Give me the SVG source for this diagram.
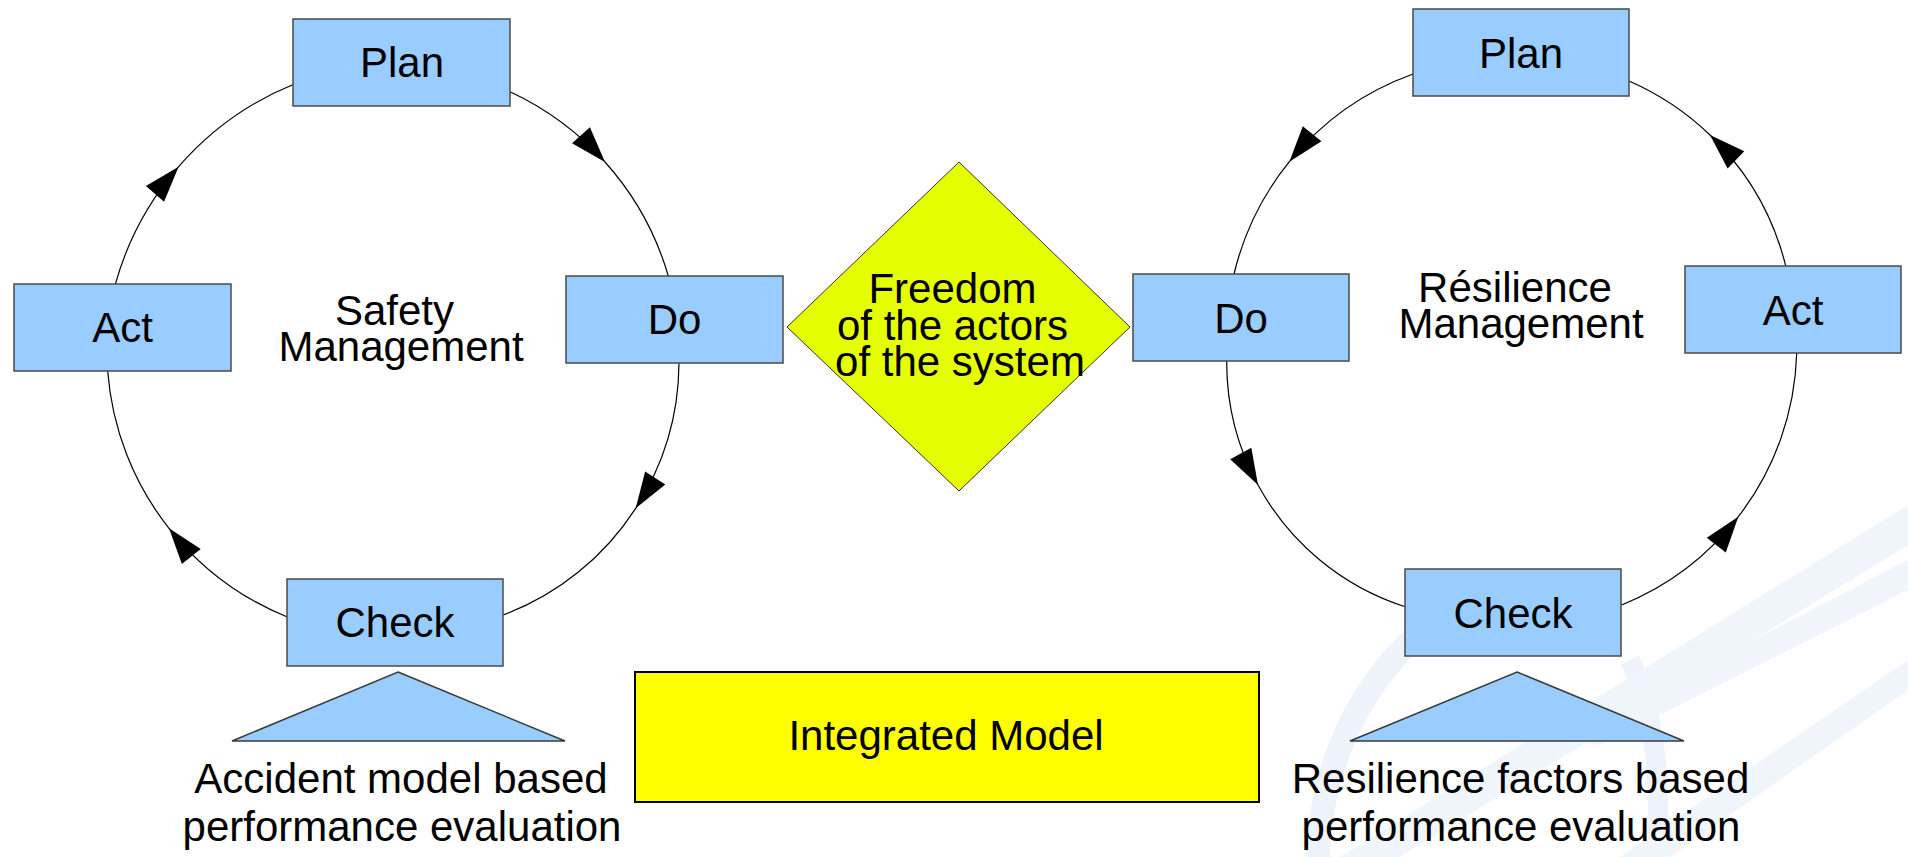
<svg xmlns="http://www.w3.org/2000/svg" width="1908" height="857" viewBox="0 0 1908 857">
<style>
  text { font-family: "Liberation Sans", Arial, sans-serif; font-size: 42px; fill: #000; text-anchor: middle; }
  .box { fill: #99ccff; stroke: #4a4a4a; stroke-width: 1.5; }
  .tri { fill: #99ccff; stroke: #3a3a3a; stroke-width: 1.5; }
  .conn { fill: none; stroke: #000; stroke-width: 1.2; marker-mid: url(#arrow); }
  .wm { fill: none; stroke: #eef3fb; }
  .wmf { fill: #f0f5fc; }
</style>
<defs>
  <marker id="arrow" markerUnits="userSpaceOnUse" markerWidth="36" markerHeight="24" viewBox="0 0 36 24" refX="36" refY="12" orient="auto" overflow="visible">
    <path d="M0,0 L36,12 L0,24 Z" fill="#000"/>
  </marker>
</defs>
<rect x="0" y="0" width="1908" height="857" fill="#ffffff"/>

<g id="watermark">
  <path class="wm" d="M1318,857 C1320,760 1370,650 1470,600" stroke-width="24"/>
  <path class="wm" d="M1657,857 C1662,760 1650,700 1630,660" stroke-width="20"/>
  <path class="wmf" d="M1340,857 L1908,505 L1908,545 L1400,857 Z"/>
  <path class="wmf" d="M1560,740 L1908,560 L1908,590 L1600,745 Z"/>
  <path class="wmf" d="M1620,857 L1908,660 L1908,690 L1670,857 Z"/>
</g>

<g id="connectors">
  <path id="c-plan-do-l" class="conn" d="M510,91.7 A293.5,293.5 0 0 1 605,162 A293.5,293.5 0 0 1 668.4,276.3"/>
  <path id="c-do-check-l" class="conn" d="M679,363.3 A271,271 0 0 1 635.7,508.3 A271,271 0 0 1 503.3,615"/>
  <path id="c-check-act-l" class="conn" d="M286.7,616.7 A288.4,288.4 0 0 1 169,528.3 A288.4,288.4 0 0 1 107.7,371"/>
  <path id="c-act-plan-l" class="conn" d="M115.3,284.3 A304.5,304.5 0 0 1 178.6,166.7 A304.5,304.5 0 0 1 294.4,84"/>
  <path id="c-plan-do-r" class="conn" d="M1413.1,74 A282.2,282.2 0 0 0 1289.4,161.7 A282.2,282.2 0 0 0 1234,274"/>
  <path id="c-do-check-r" class="conn" d="M1226.7,361 A257,257 0 0 0 1258,485 A257,257 0 0 0 1405,606.7"/>
  <path id="c-check-act-r" class="conn" d="M1621.7,605 A280,280 0 0 0 1738.3,516.7 A280,280 0 0 0 1796.7,353.3"/>
  <path id="c-act-plan-r" class="conn" d="M1785.8,266.3 A273.6,273.6 0 0 0 1710,135 A273.6,273.6 0 0 0 1628.9,81"/>
</g>

<g id="plan-left"><rect class="box" x="293" y="19" width="217" height="87"/><text x="402" y="77">Plan</text></g>
<g id="act-left"><rect class="box" x="14" y="284" width="217" height="87"/><text x="122.5" y="342">Act</text></g>
<g id="do-left"><rect class="box" x="566" y="276" width="217" height="87"/><text x="674.5" y="334">Do</text></g>
<g id="check-left"><rect class="box" x="287" y="579" width="216" height="87"/><text x="395" y="637">Check</text></g>
<g id="safety-label"><text x="394.5" y="325">Safety</text><text x="401" y="361">Management</text></g>
<g id="accident-eval"><polygon class="tri" points="398,672 565,741 232,741"/></g>
<g id="accident-label"><text x="401" y="793">Accident model based</text><text x="402" y="841">performance evaluation</text></g>

<g id="freedom"><polygon points="959,162 1130,327 959,491 787,327" fill="#e6ff00" stroke="#333" stroke-width="1"/>
  <text x="952.5" y="303">Freedom</text><text x="952.5" y="340">of the actors</text><text x="960" y="376">of the system</text></g>

<g id="integrated"><rect x="635" y="672" width="624" height="130" fill="#ffff00" stroke="#000" stroke-width="2"/><text x="946" y="750">Integrated Model</text></g>

<g id="plan-right"><rect class="box" x="1413" y="9" width="216" height="87"/><text x="1521" y="68">Plan</text></g>
<g id="do-right"><rect class="box" x="1133" y="274" width="216" height="87"/><text x="1241" y="333">Do</text></g>
<g id="act-right"><rect class="box" x="1685" y="266" width="216" height="87"/><text x="1793" y="325">Act</text></g>
<g id="check-right"><rect class="box" x="1405" y="569" width="216" height="87"/><text x="1513" y="628">Check</text></g>
<g id="resilience-label"><text x="1515" y="302">Résilience</text><text x="1521" y="338">Management</text></g>
<g id="resilience-eval"><polygon class="tri" points="1517,672 1684,741 1350,741"/></g>
<g id="resilience-eval-label"><text x="1520.5" y="793">Resilience factors based</text><text x="1521" y="841">performance evaluation</text></g>
</svg>
